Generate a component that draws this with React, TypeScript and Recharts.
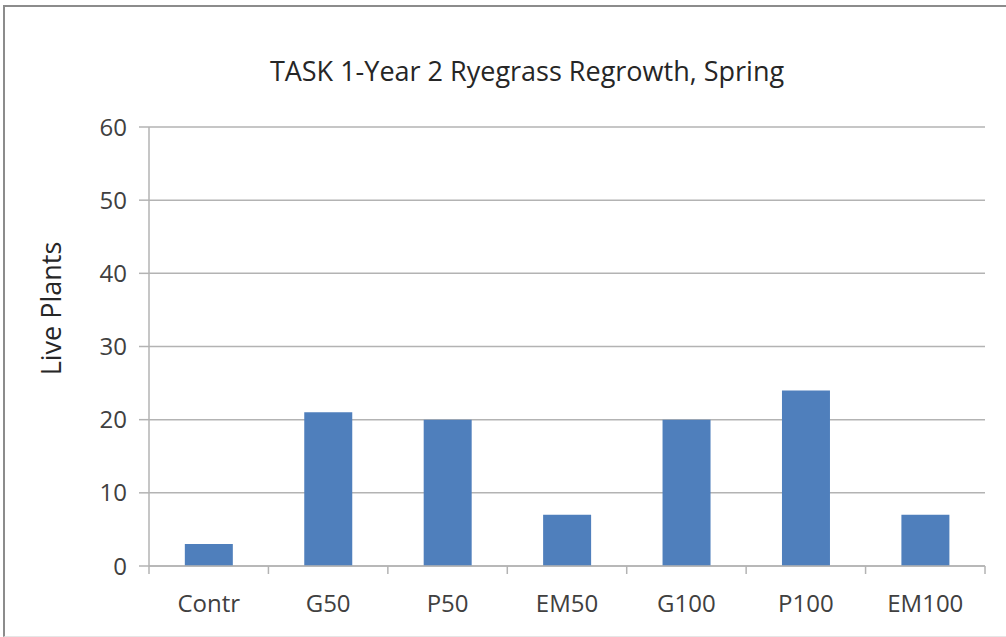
import React from "react";
import { BarChart, Bar, XAxis, YAxis, CartesianGrid } from "recharts";

const categories = ["Contr", "G50", "P50", "EM50", "G100", "P100", "EM100"];
const livePlants = [3, 21, 20, 7, 20, 24, 7];
const yTicks = [0, 10, 20, 30, 40, 50, 60];

const data = categories.map((name, i) => ({ name, value: livePlants[i] }));

const FONT = "'Open Sans', 'Noto Sans', sans-serif";
const GRAY = "#b3b3b3";
const X_TICK_MARGIN = 29;

const CategoryTick = (props: any) => {
  const { x, y, payload, index, visibleTicksCount } = props;
  const axisY = y - X_TICK_MARGIN;
  const off = payload.offset || 0;
  const left = payload.coordinate - off;
  const right = payload.coordinate + off;
  return (
    <g>
      <line x1={left} x2={left} y1={axisY} y2={axisY + 8} stroke={GRAY} strokeWidth={1.5} />
      {index === visibleTicksCount - 1 && (
        <line x1={right} x2={right} y1={axisY} y2={axisY + 8} stroke={GRAY} strokeWidth={1.5} />
      )}
      <text x={x} y={y} dy="0.71em" textAnchor="middle" fill="#404040" fontSize={24} fontFamily={FONT}>
        {payload.value}
      </text>
    </g>
  );
};

const YLabel = (props: any) => {
  const vb = props.viewBox || {};
  const cx = 50;
  const cy = vb.y + vb.height / 2 - 38;
  return (
    <text
      x={cx}
      y={cy}
      transform={`rotate(-90 ${cx} ${cy})`}
      textAnchor="middle"
      dominantBaseline="central"
      fill="#262626"
      fontSize={27}
      fontFamily={FONT}
    >
      Live Plants
    </text>
  );
};

export default function App() {
  return (
    <div style={{ position: "absolute", left: 0, top: 0, width: 1006, height: 637, background: "#fff", fontFamily: FONT }}>
      <div
        style={{
          position: "absolute",
          left: 3,
          top: 5,
          width: 1010,
          height: 629,
          borderLeft: "2px solid #8c8c8c",
          borderTop: "2px solid #8c8c8c",
          borderBottom: "1px solid #e6e6e6",
        }}
      />
      <div
        style={{
          position: "absolute",
          left: 0,
          width: 1054,
          top: 52,
          textAlign: "center",
          fontSize: 27,
          color: "#262626",
          whiteSpace: "nowrap",
        }}
      >
        TASK 1-Year 2 Ryegrass Regrowth, Spring
      </div>
      <div style={{ position: "absolute", left: 0, top: 0 }}>
        <BarChart
          width={1006}
          height={637}
          data={data}
          margin={{ top: 127, right: 21, bottom: 31, left: 0 }}
          barCategoryGap="30%"
        >
          <CartesianGrid vertical={false} stroke={GRAY} strokeWidth={1.5} />
          <XAxis
            dataKey="name"
            axisLine={{ stroke: GRAY, strokeWidth: 1.5 }}
            tickLine={false}
            tickSize={0}
            tick={<CategoryTick />}
            tickMargin={X_TICK_MARGIN}
            height={40}
            interval={0}
          />
          <YAxis
            domain={[0, 60]}
            ticks={yTicks}
            width={149}
            axisLine={{ stroke: GRAY, strokeWidth: 1.5 }}
            tickLine={{ stroke: GRAY, strokeWidth: 1.5 }}
            tickSize={10}
            tickMargin={12}
            tick={{ fill: "#404040", fontSize: 24, fontFamily: FONT }}
            label={<YLabel />}
          />
          <Bar dataKey="value" fill="#4f7fbc" isAnimationActive={false} />
        </BarChart>
      </div>
    </div>
  );
}
